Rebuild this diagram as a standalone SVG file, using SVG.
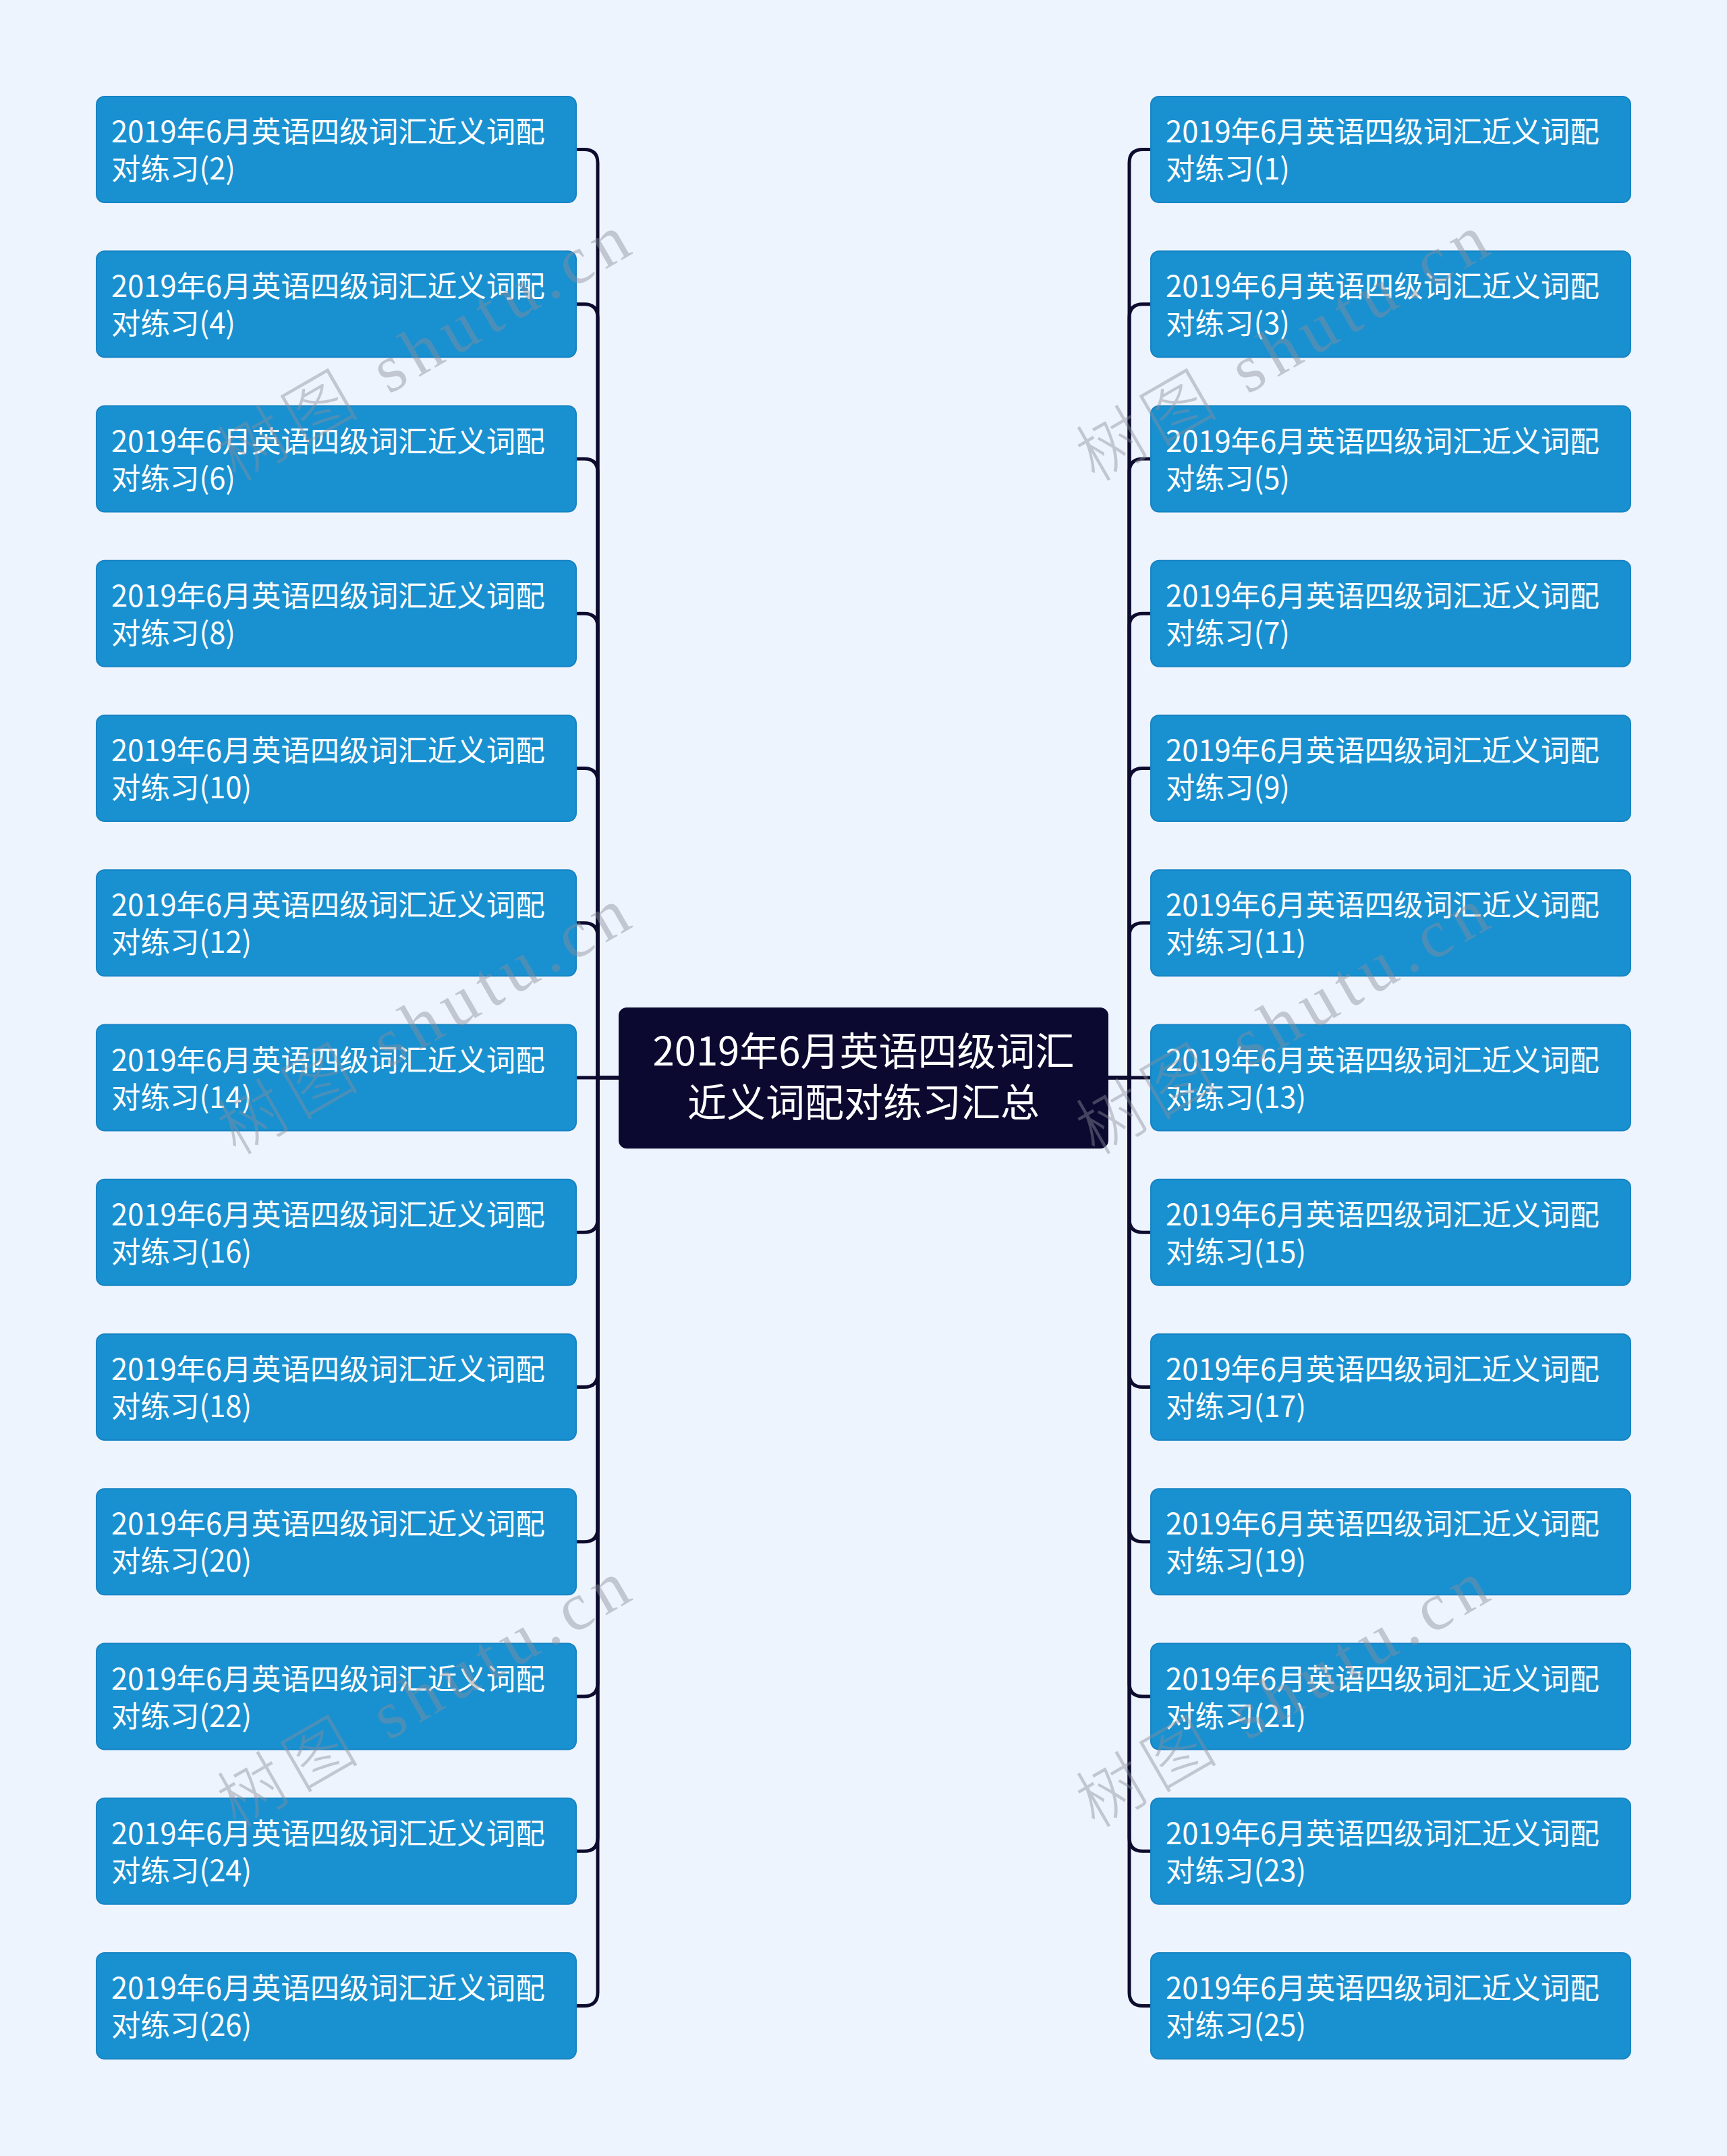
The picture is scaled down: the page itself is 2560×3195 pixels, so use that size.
<svg xmlns="http://www.w3.org/2000/svg" width="2560" height="3195" viewBox="0 0 2560 3195">
<style>
.bg{fill:#EEF4FE}
.node rect{fill:#1991D1;stroke:#1683C3;stroke-width:2}
.node text{fill:#FFFFFF;font-family:"Noto Sans CJK SC","Noto Sans",sans-serif;font-size:43.5px}
.root rect{fill:#0B0930}
.root text{fill:#FFFFFF;font-family:"Noto Sans CJK SC","Noto Sans",sans-serif;font-size:58px}
.conn path{fill:none;stroke:#0D0B2E;stroke-width:5}
.wm text{fill:#8A8F99;fill-opacity:0.45;font-family:"Liberation Serif","Noto Sans CJK SC",serif;font-size:100px;font-weight:300;letter-spacing:12px}
</style>
<rect class="bg" x="0" y="0" width="2560" height="3195"/>
<g id="connectors" class="conn">
<path d="M917 1597H886V241.5Q886 221.5 866 221.5H854"/>
<path d="M917 1597H886V470.75Q886 450.75 866 450.75H854"/>
<path d="M917 1597H886V700Q886 680 866 680H854"/>
<path d="M917 1597H886V929.25Q886 909.25 866 909.25H854"/>
<path d="M917 1597H886V1158.5Q886 1138.5 866 1138.5H854"/>
<path d="M917 1597H886V1387.75Q886 1367.75 866 1367.75H854"/>
<path d="M917 1597H854"/>
<path d="M917 1597H886V1806.25Q886 1826.25 866 1826.25H854"/>
<path d="M917 1597H886V2035.5Q886 2055.5 866 2055.5H854"/>
<path d="M917 1597H886V2264.75Q886 2284.75 866 2284.75H854"/>
<path d="M917 1597H886V2494Q886 2514 866 2514H854"/>
<path d="M917 1597H886V2723.25Q886 2743.25 866 2743.25H854"/>
<path d="M917 1597H886V2952.5Q886 2972.5 866 2972.5H854"/>
<path d="M1643 1597H1674V241.5Q1674 221.5 1694 221.5H1706"/>
<path d="M1643 1597H1674V470.75Q1674 450.75 1694 450.75H1706"/>
<path d="M1643 1597H1674V700Q1674 680 1694 680H1706"/>
<path d="M1643 1597H1674V929.25Q1674 909.25 1694 909.25H1706"/>
<path d="M1643 1597H1674V1158.5Q1674 1138.5 1694 1138.5H1706"/>
<path d="M1643 1597H1674V1387.75Q1674 1367.75 1694 1367.75H1706"/>
<path d="M1643 1597H1706"/>
<path d="M1643 1597H1674V1806.25Q1674 1826.25 1694 1826.25H1706"/>
<path d="M1643 1597H1674V2035.5Q1674 2055.5 1694 2055.5H1706"/>
<path d="M1643 1597H1674V2264.75Q1674 2284.75 1694 2284.75H1706"/>
<path d="M1643 1597H1674V2494Q1674 2514 1694 2514H1706"/>
<path d="M1643 1597H1674V2723.25Q1674 2743.25 1694 2743.25H1706"/>
<path d="M1643 1597H1674V2952.5Q1674 2972.5 1694 2972.5H1706"/>
</g>
<g id="root" class="root">
<rect x="917" y="1493" width="726" height="209" rx="12"/>
<text x="1280" y="1579" text-anchor="middle">2019年6月英语四级词汇</text>
<text x="1280" y="1655" text-anchor="middle">近义词配对练习汇总</text>
</g>
<g id="n2" class="node" transform="translate(143,143)"><rect width="711" height="157" rx="12"/><text x="22" y="68">2019年6月英语四级词汇近义词配</text><text x="22" y="123">对练习(2)</text></g>
<g id="n4" class="node" transform="translate(143,372.25)"><rect width="711" height="157" rx="12"/><text x="22" y="68">2019年6月英语四级词汇近义词配</text><text x="22" y="123">对练习(4)</text></g>
<g id="n6" class="node" transform="translate(143,601.5)"><rect width="711" height="157" rx="12"/><text x="22" y="68">2019年6月英语四级词汇近义词配</text><text x="22" y="123">对练习(6)</text></g>
<g id="n8" class="node" transform="translate(143,830.75)"><rect width="711" height="157" rx="12"/><text x="22" y="68">2019年6月英语四级词汇近义词配</text><text x="22" y="123">对练习(8)</text></g>
<g id="n10" class="node" transform="translate(143,1060)"><rect width="711" height="157" rx="12"/><text x="22" y="68">2019年6月英语四级词汇近义词配</text><text x="22" y="123">对练习(10)</text></g>
<g id="n12" class="node" transform="translate(143,1289.25)"><rect width="711" height="157" rx="12"/><text x="22" y="68">2019年6月英语四级词汇近义词配</text><text x="22" y="123">对练习(12)</text></g>
<g id="n14" class="node" transform="translate(143,1518.5)"><rect width="711" height="157" rx="12"/><text x="22" y="68">2019年6月英语四级词汇近义词配</text><text x="22" y="123">对练习(14)</text></g>
<g id="n16" class="node" transform="translate(143,1747.75)"><rect width="711" height="157" rx="12"/><text x="22" y="68">2019年6月英语四级词汇近义词配</text><text x="22" y="123">对练习(16)</text></g>
<g id="n18" class="node" transform="translate(143,1977)"><rect width="711" height="157" rx="12"/><text x="22" y="68">2019年6月英语四级词汇近义词配</text><text x="22" y="123">对练习(18)</text></g>
<g id="n20" class="node" transform="translate(143,2206.25)"><rect width="711" height="157" rx="12"/><text x="22" y="68">2019年6月英语四级词汇近义词配</text><text x="22" y="123">对练习(20)</text></g>
<g id="n22" class="node" transform="translate(143,2435.5)"><rect width="711" height="157" rx="12"/><text x="22" y="68">2019年6月英语四级词汇近义词配</text><text x="22" y="123">对练习(22)</text></g>
<g id="n24" class="node" transform="translate(143,2664.75)"><rect width="711" height="157" rx="12"/><text x="22" y="68">2019年6月英语四级词汇近义词配</text><text x="22" y="123">对练习(24)</text></g>
<g id="n26" class="node" transform="translate(143,2894)"><rect width="711" height="157" rx="12"/><text x="22" y="68">2019年6月英语四级词汇近义词配</text><text x="22" y="123">对练习(26)</text></g>
<g id="n1" class="node" transform="translate(1706,143)"><rect width="711" height="157" rx="12"/><text x="22" y="68">2019年6月英语四级词汇近义词配</text><text x="22" y="123">对练习(1)</text></g>
<g id="n3" class="node" transform="translate(1706,372.25)"><rect width="711" height="157" rx="12"/><text x="22" y="68">2019年6月英语四级词汇近义词配</text><text x="22" y="123">对练习(3)</text></g>
<g id="n5" class="node" transform="translate(1706,601.5)"><rect width="711" height="157" rx="12"/><text x="22" y="68">2019年6月英语四级词汇近义词配</text><text x="22" y="123">对练习(5)</text></g>
<g id="n7" class="node" transform="translate(1706,830.75)"><rect width="711" height="157" rx="12"/><text x="22" y="68">2019年6月英语四级词汇近义词配</text><text x="22" y="123">对练习(7)</text></g>
<g id="n9" class="node" transform="translate(1706,1060)"><rect width="711" height="157" rx="12"/><text x="22" y="68">2019年6月英语四级词汇近义词配</text><text x="22" y="123">对练习(9)</text></g>
<g id="n11" class="node" transform="translate(1706,1289.25)"><rect width="711" height="157" rx="12"/><text x="22" y="68">2019年6月英语四级词汇近义词配</text><text x="22" y="123">对练习(11)</text></g>
<g id="n13" class="node" transform="translate(1706,1518.5)"><rect width="711" height="157" rx="12"/><text x="22" y="68">2019年6月英语四级词汇近义词配</text><text x="22" y="123">对练习(13)</text></g>
<g id="n15" class="node" transform="translate(1706,1747.75)"><rect width="711" height="157" rx="12"/><text x="22" y="68">2019年6月英语四级词汇近义词配</text><text x="22" y="123">对练习(15)</text></g>
<g id="n17" class="node" transform="translate(1706,1977)"><rect width="711" height="157" rx="12"/><text x="22" y="68">2019年6月英语四级词汇近义词配</text><text x="22" y="123">对练习(17)</text></g>
<g id="n19" class="node" transform="translate(1706,2206.25)"><rect width="711" height="157" rx="12"/><text x="22" y="68">2019年6月英语四级词汇近义词配</text><text x="22" y="123">对练习(19)</text></g>
<g id="n21" class="node" transform="translate(1706,2435.5)"><rect width="711" height="157" rx="12"/><text x="22" y="68">2019年6月英语四级词汇近义词配</text><text x="22" y="123">对练习(21)</text></g>
<g id="n23" class="node" transform="translate(1706,2664.75)"><rect width="711" height="157" rx="12"/><text x="22" y="68">2019年6月英语四级词汇近义词配</text><text x="22" y="123">对练习(23)</text></g>
<g id="n25" class="node" transform="translate(1706,2894)"><rect width="711" height="157" rx="12"/><text x="22" y="68">2019年6月英语四级词汇近义词配</text><text x="22" y="123">对练习(25)</text></g>
<g id="watermarks" class="wm">
<text transform="translate(650,542) rotate(-30)" text-anchor="middle">树图 shutu.cn</text>
<text transform="translate(650,1540) rotate(-30)" text-anchor="middle">树图 shutu.cn</text>
<text transform="translate(650,2537) rotate(-30)" text-anchor="middle">树图 shutu.cn</text>
<text transform="translate(1923,542) rotate(-30)" text-anchor="middle">树图 shutu.cn</text>
<text transform="translate(1923,1540) rotate(-30)" text-anchor="middle">树图 shutu.cn</text>
<text transform="translate(1923,2537) rotate(-30)" text-anchor="middle">树图 shutu.cn</text>
</g>
</svg>
